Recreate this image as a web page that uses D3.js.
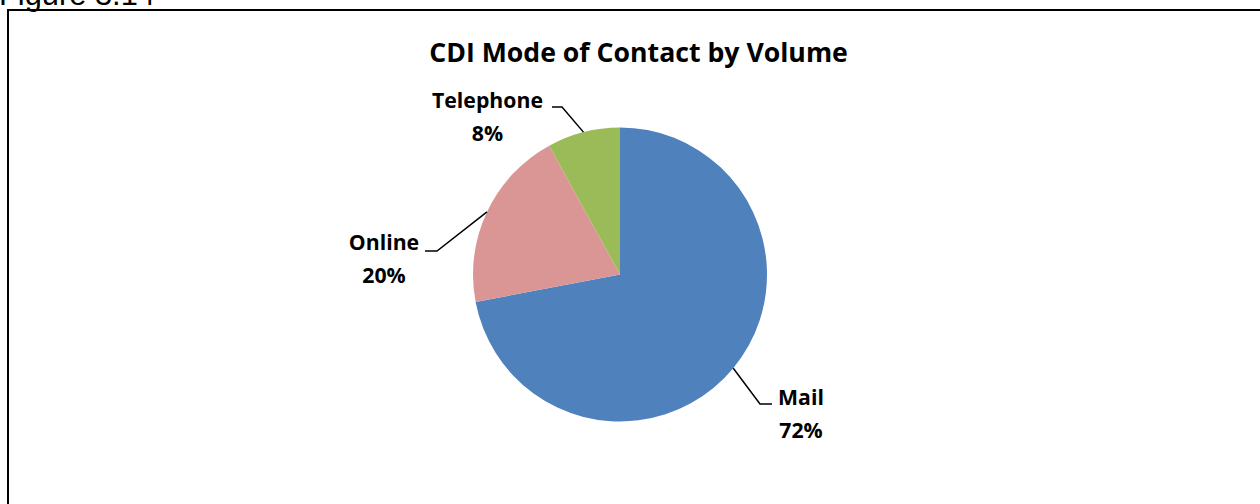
<!DOCTYPE html>
<html>
<head>
<meta charset="utf-8">
<script src="https://cdn.jsdelivr.net/npm/d3@7"></script>
<style>
  html, body { margin: 0; padding: 0; background: #fff; overflow: hidden; }
  svg { display: block; }
</style>
</head>
<body>
<svg id="chart" width="1260" height="504"></svg>
<script>
// ---- data ----
const categories = ["Mail", "Online", "Telephone"];
const values = [72, 20, 8];
const percentLabels = ["72%", "20%", "8%"];
const colors = ["#4F81BD", "#D99694", "#9BBB59"];
const chartTitle = "CDI Mode of Contact by Volume";
const figureCaption = "Figure 3.14";

// ---- layout ----
const W = 1260, H = 504;
const cx = 620, cy = 274.5, R = 147;
const labelFont = "'Open Sans', Lato, sans-serif";

// label placement: text centre, first baseline, elbow & end of leader line
const labelLayout = [
  { tx: 801, ty: 405, elbow: [760, 404], end: [772, 404] },
  { tx: 384, ty: 250, elbow: [437, 251], end: [425, 251] },
  { tx: 487.5, ty: 108, elbow: [562, 107], end: [552, 107] }
];

const svg = d3.select("#chart");

// fit a text element's font size so it spans a target width
function fitWidth(sel, target) {
  const fs = +sel.attr("font-size");
  const w = sel.node().getComputedTextLength();
  const nfs = fs * target / w;
  sel.attr("font-size", nfs);
  return nfs;
}

// caption (cut off at top, as in the original page)
const cap = svg.append("text")
  .attr("x", -1).attr("y", 5)
  .attr("font-family", "'Liberation Sans', Arial, sans-serif")
  .attr("font-size", 28)
  .attr("fill", "#000")
  .text(figureCaption);
fitWidth(cap, 156);

// frame
svg.append("rect")
  .attr("x", 8).attr("y", 10)
  .attr("width", 1400).attr("height", 700)
  .attr("fill", "none").attr("stroke", "#000").attr("stroke-width", 2);

// title
const title = svg.append("text")
  .attr("x", 638.5).attr("y", 61.5)
  .attr("text-anchor", "middle")
  .attr("font-family", labelFont)
  .attr("font-weight", "bold")
  .attr("font-size", 23)
  .attr("fill", "#000")
  .text(chartTitle);
fitWidth(title, 419);

// pie
const pie = d3.pie().sort(null).value(d => d)
  .startAngle(0).endAngle(2 * Math.PI);
const arcs = pie(values);
const arc = d3.arc().innerRadius(0).outerRadius(R);

const g = svg.append("g").attr("transform", `translate(${cx},${cy})`);
g.selectAll("path.slice")
  .data(arcs)
  .join("path")
  .attr("class", "slice")
  .attr("d", arc)
  .attr("fill", (d, i) => colors[i]);

// label font size: fit "Telephone" to its width in the original
const probe = svg.append("text")
  .attr("font-family", labelFont).attr("font-weight", "bold")
  .attr("font-size", 18).text(categories[2]);
const labelSize = fitWidth(probe, 111);
probe.remove();

// leader lines and labels
arcs.forEach((a, i) => {
  const mid = (a.startAngle + a.endAngle) / 2;
  const px = cx + R * Math.sin(mid);
  const py = cy - R * Math.cos(mid);
  const L = labelLayout[i];
  svg.append("polyline")
    .attr("points", [[px, py], L.elbow, L.end].map(p => p.join(",")).join(" "))
    .attr("fill", "none")
    .attr("stroke", "#000")
    .attr("stroke-width", 1.5);
  const t = svg.append("text")
    .attr("text-anchor", "middle")
    .attr("font-family", labelFont)
    .attr("font-weight", "bold")
    .attr("font-size", labelSize)
    .attr("fill", "#000");
  t.append("tspan").attr("x", L.tx).attr("y", L.ty).text(categories[i]);
  t.append("tspan").attr("x", L.tx).attr("y", L.ty + 33).text(percentLabels[i]);
});
</script>
</body>
</html>
